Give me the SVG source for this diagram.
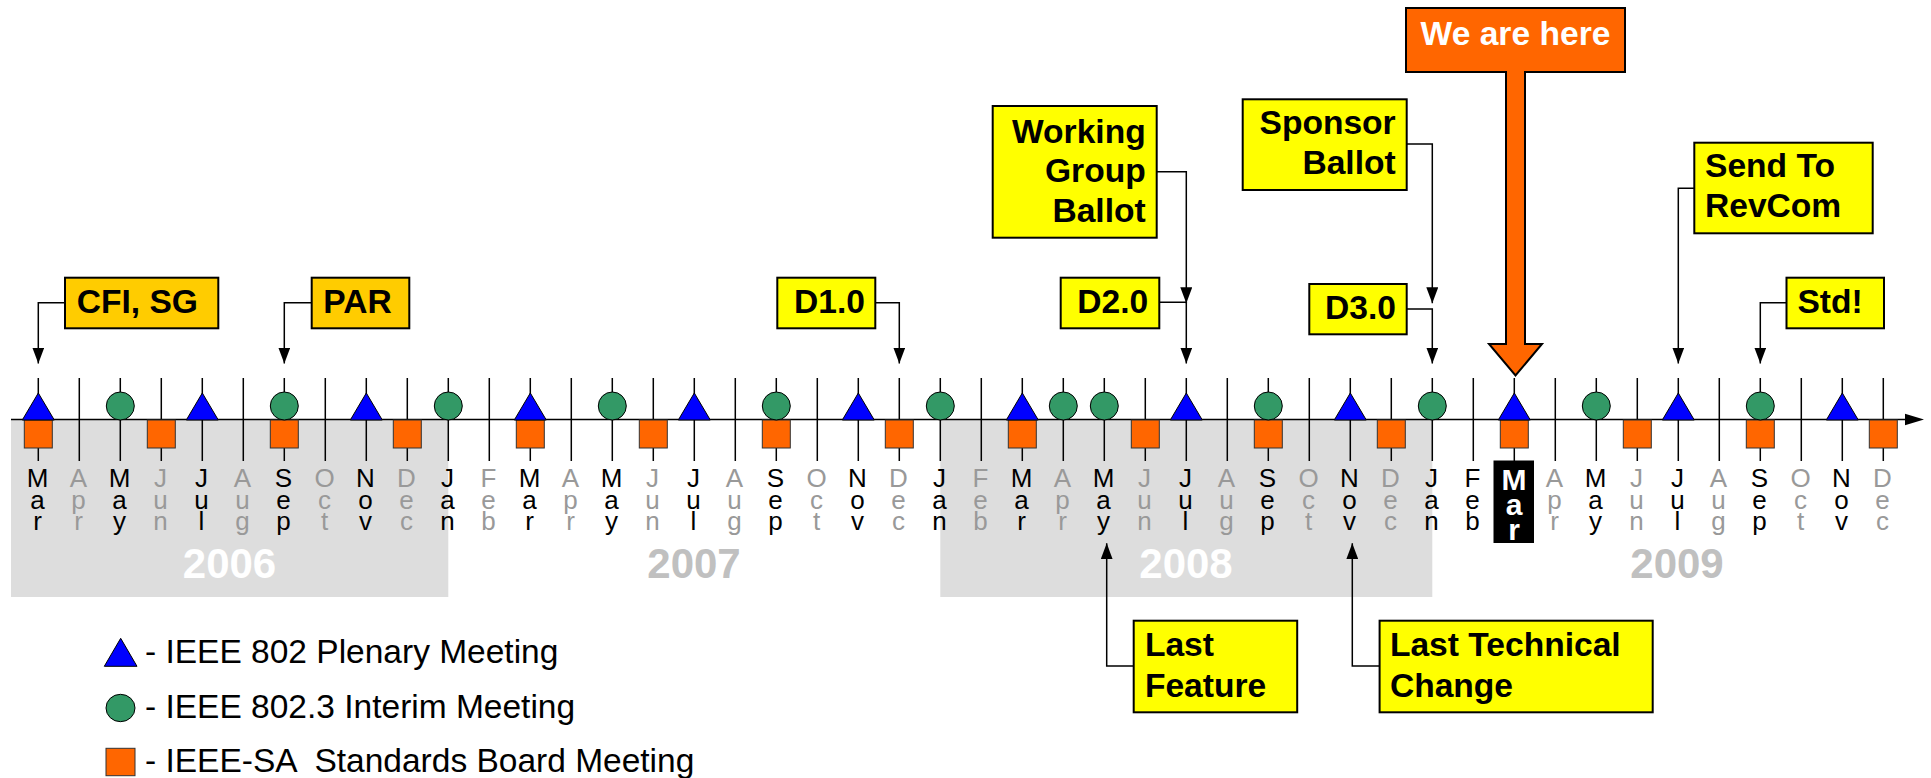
<svg xmlns="http://www.w3.org/2000/svg" xmlns:xlink="http://www.w3.org/1999/xlink" width="1931" height="778" viewBox="0 0 1931 778">
<style>
.m{font-family:"Liberation Sans",Arial,sans-serif;font-size:26px;text-anchor:middle;fill:#000}
.g{fill:#999}
.yr{font-family:"Liberation Sans",Arial,sans-serif;font-size:42px;font-weight:bold;text-anchor:middle}
.cb{stroke:#000;stroke-width:2}
.ct{font-family:"Liberation Sans",Arial,sans-serif;font-size:33.6px;font-weight:bold;fill:#000}
.e{text-anchor:end}
.lg{font-family:"Liberation Sans",Arial,sans-serif;font-size:33.5px;fill:#000}
.conn{fill:none;stroke:#000;stroke-width:1.5}
.tri{fill:#0000FF;stroke:#000;stroke-width:1}
.cir{fill:#339966;stroke:#000;stroke-width:1}
.sq{fill:#FF6600;stroke:#333;stroke-width:1}
</style>
<defs>
<marker id="ah" viewBox="0 0 16 12" refX="16" refY="6" markerWidth="16" markerHeight="12" markerUnits="userSpaceOnUse" orient="auto">
<path d="M0,0 L16,6 L0,12 z" fill="#000"/>
</marker>
<polygon id="T" class="tri" points="-16,0 16,0 0,-27"/>
<circle id="C" class="cir" cx="0" cy="-14" r="14"/>
<rect id="S" class="sq" x="-14" y="0" width="28" height="28"/>
</defs>
<rect width="1931" height="778" fill="#fff"/>
<!-- year bands -->
<g id="bands">
<rect x="11" y="420" width="437.3" height="177" fill="#DDDDDD"/>
<rect x="940.3" y="420" width="492" height="177" fill="#DDDDDD"/>
</g>
<!-- ticks -->
<path id="ticks" fill="none" stroke="#000" stroke-width="1.5" d="M38.3,378V461M79.3,378V461M120.3,378V461M161.3,378V461M202.3,378V461M243.3,378V461M284.3,378V461M325.3,378V461M366.3,378V461M407.3,378V461M448.3,378V461M489.3,378V461M530.3,378V461M571.3,378V461M612.3,378V461M653.3,378V461M694.3,378V461M735.3,378V461M776.3,378V461M817.3,378V461M858.3,378V461M899.3,378V461M940.3,378V461M981.3,378V461M1022.3,378V461M1063.3,378V461M1104.3,378V461M1145.3,378V461M1186.3,378V461M1227.3,378V461M1268.3,378V461M1309.3,378V461M1350.3,378V461M1391.3,378V461M1432.3,378V461M1473.3,378V461M1514.3,378V461M1555.3,378V461M1596.3,378V461M1637.3,378V461M1678.3,378V461M1719.3,378V461M1760.3,378V461M1801.3,378V461M1842.3,378V461M1883.3,378V461"/>
<!-- axis -->
<g id="axis">
<line x1="11" y1="419.5" x2="1906" y2="419.5" stroke="#000" stroke-width="1.5"/>
<polygon points="1905,413.8 1924,419.5 1905,425.2" fill="#000"/>
</g>
<!-- standards board squares -->
<g id="squares">
<use xlink:href="#S" transform="translate(38.3,420)"/>
<use xlink:href="#S" transform="translate(161.3,420)"/>
<use xlink:href="#S" transform="translate(284.3,420)"/>
<use xlink:href="#S" transform="translate(407.3,420)"/>
<use xlink:href="#S" transform="translate(530.3,420)"/>
<use xlink:href="#S" transform="translate(653.3,420)"/>
<use xlink:href="#S" transform="translate(776.3,420)"/>
<use xlink:href="#S" transform="translate(899.3,420)"/>
<use xlink:href="#S" transform="translate(1022.3,420)"/>
<use xlink:href="#S" transform="translate(1145.3,420)"/>
<use xlink:href="#S" transform="translate(1268.3,420)"/>
<use xlink:href="#S" transform="translate(1391.3,420)"/>
<use xlink:href="#S" transform="translate(1514.3,420)"/>
<use xlink:href="#S" transform="translate(1637.3,420)"/>
<use xlink:href="#S" transform="translate(1760.3,420)"/>
<use xlink:href="#S" transform="translate(1883.3,420)"/>
</g>
<!-- interim circles -->
<g id="circles">
<use xlink:href="#C" transform="translate(120.3,420)"/>
<use xlink:href="#C" transform="translate(284.3,420)"/>
<use xlink:href="#C" transform="translate(448.3,420)"/>
<use xlink:href="#C" transform="translate(612.3,420)"/>
<use xlink:href="#C" transform="translate(776.3,420)"/>
<use xlink:href="#C" transform="translate(940.3,420)"/>
<use xlink:href="#C" transform="translate(1063.3,420)"/>
<use xlink:href="#C" transform="translate(1104.3,420)"/>
<use xlink:href="#C" transform="translate(1268.3,420)"/>
<use xlink:href="#C" transform="translate(1432.3,420)"/>
<use xlink:href="#C" transform="translate(1596.3,420)"/>
<use xlink:href="#C" transform="translate(1760.3,420)"/>
</g>
<!-- plenary triangles -->
<g id="triangles">
<use xlink:href="#T" transform="translate(38.3,420)"/>
<use xlink:href="#T" transform="translate(202.3,420)"/>
<use xlink:href="#T" transform="translate(366.3,420)"/>
<use xlink:href="#T" transform="translate(530.3,420)"/>
<use xlink:href="#T" transform="translate(694.3,420)"/>
<use xlink:href="#T" transform="translate(858.3,420)"/>
<use xlink:href="#T" transform="translate(1022.3,420)"/>
<use xlink:href="#T" transform="translate(1186.3,420)"/>
<use xlink:href="#T" transform="translate(1350.3,420)"/>
<use xlink:href="#T" transform="translate(1514.3,420)"/>
<use xlink:href="#T" transform="translate(1678.3,420)"/>
<use xlink:href="#T" transform="translate(1842.3,420)"/>
</g>
<!-- month labels -->
<g id="months">
<text class="m" y="486.5"><tspan x="37.5">M</tspan><tspan x="37.5" dy="22">a</tspan><tspan x="37.5" dy="21.5">r</tspan></text>
<text class="m g" y="486.5"><tspan x="78.5">A</tspan><tspan x="78.5" dy="22">p</tspan><tspan x="78.5" dy="21.5">r</tspan></text>
<text class="m" y="486.5"><tspan x="119.5">M</tspan><tspan x="119.5" dy="22">a</tspan><tspan x="119.5" dy="21.5">y</tspan></text>
<text class="m g" y="486.5"><tspan x="160.5">J</tspan><tspan x="160.5" dy="22">u</tspan><tspan x="160.5" dy="21.5">n</tspan></text>
<text class="m" y="486.5"><tspan x="201.5">J</tspan><tspan x="201.5" dy="22">u</tspan><tspan x="201.5" dy="21.5">l</tspan></text>
<text class="m g" y="486.5"><tspan x="242.5">A</tspan><tspan x="242.5" dy="22">u</tspan><tspan x="242.5" dy="21.5">g</tspan></text>
<text class="m" y="486.5"><tspan x="283.5">S</tspan><tspan x="283.5" dy="22">e</tspan><tspan x="283.5" dy="21.5">p</tspan></text>
<text class="m g" y="486.5"><tspan x="324.5">O</tspan><tspan x="324.5" dy="22">c</tspan><tspan x="324.5" dy="21.5">t</tspan></text>
<text class="m" y="486.5"><tspan x="365.5">N</tspan><tspan x="365.5" dy="22">o</tspan><tspan x="365.5" dy="21.5">v</tspan></text>
<text class="m g" y="486.5"><tspan x="406.5">D</tspan><tspan x="406.5" dy="22">e</tspan><tspan x="406.5" dy="21.5">c</tspan></text>
<text class="m" y="486.5"><tspan x="447.5">J</tspan><tspan x="447.5" dy="22">a</tspan><tspan x="447.5" dy="21.5">n</tspan></text>
<text class="m g" y="486.5"><tspan x="488.5">F</tspan><tspan x="488.5" dy="22">e</tspan><tspan x="488.5" dy="21.5">b</tspan></text>
<text class="m" y="486.5"><tspan x="529.5">M</tspan><tspan x="529.5" dy="22">a</tspan><tspan x="529.5" dy="21.5">r</tspan></text>
<text class="m g" y="486.5"><tspan x="570.5">A</tspan><tspan x="570.5" dy="22">p</tspan><tspan x="570.5" dy="21.5">r</tspan></text>
<text class="m" y="486.5"><tspan x="611.5">M</tspan><tspan x="611.5" dy="22">a</tspan><tspan x="611.5" dy="21.5">y</tspan></text>
<text class="m g" y="486.5"><tspan x="652.5">J</tspan><tspan x="652.5" dy="22">u</tspan><tspan x="652.5" dy="21.5">n</tspan></text>
<text class="m" y="486.5"><tspan x="693.5">J</tspan><tspan x="693.5" dy="22">u</tspan><tspan x="693.5" dy="21.5">l</tspan></text>
<text class="m g" y="486.5"><tspan x="734.5">A</tspan><tspan x="734.5" dy="22">u</tspan><tspan x="734.5" dy="21.5">g</tspan></text>
<text class="m" y="486.5"><tspan x="775.5">S</tspan><tspan x="775.5" dy="22">e</tspan><tspan x="775.5" dy="21.5">p</tspan></text>
<text class="m g" y="486.5"><tspan x="816.5">O</tspan><tspan x="816.5" dy="22">c</tspan><tspan x="816.5" dy="21.5">t</tspan></text>
<text class="m" y="486.5"><tspan x="857.5">N</tspan><tspan x="857.5" dy="22">o</tspan><tspan x="857.5" dy="21.5">v</tspan></text>
<text class="m g" y="486.5"><tspan x="898.5">D</tspan><tspan x="898.5" dy="22">e</tspan><tspan x="898.5" dy="21.5">c</tspan></text>
<text class="m" y="486.5"><tspan x="939.5">J</tspan><tspan x="939.5" dy="22">a</tspan><tspan x="939.5" dy="21.5">n</tspan></text>
<text class="m g" y="486.5"><tspan x="980.5">F</tspan><tspan x="980.5" dy="22">e</tspan><tspan x="980.5" dy="21.5">b</tspan></text>
<text class="m" y="486.5"><tspan x="1021.5">M</tspan><tspan x="1021.5" dy="22">a</tspan><tspan x="1021.5" dy="21.5">r</tspan></text>
<text class="m g" y="486.5"><tspan x="1062.5">A</tspan><tspan x="1062.5" dy="22">p</tspan><tspan x="1062.5" dy="21.5">r</tspan></text>
<text class="m" y="486.5"><tspan x="1103.5">M</tspan><tspan x="1103.5" dy="22">a</tspan><tspan x="1103.5" dy="21.5">y</tspan></text>
<text class="m g" y="486.5"><tspan x="1144.5">J</tspan><tspan x="1144.5" dy="22">u</tspan><tspan x="1144.5" dy="21.5">n</tspan></text>
<text class="m" y="486.5"><tspan x="1185.5">J</tspan><tspan x="1185.5" dy="22">u</tspan><tspan x="1185.5" dy="21.5">l</tspan></text>
<text class="m g" y="486.5"><tspan x="1226.5">A</tspan><tspan x="1226.5" dy="22">u</tspan><tspan x="1226.5" dy="21.5">g</tspan></text>
<text class="m" y="486.5"><tspan x="1267.5">S</tspan><tspan x="1267.5" dy="22">e</tspan><tspan x="1267.5" dy="21.5">p</tspan></text>
<text class="m g" y="486.5"><tspan x="1308.5">O</tspan><tspan x="1308.5" dy="22">c</tspan><tspan x="1308.5" dy="21.5">t</tspan></text>
<text class="m" y="486.5"><tspan x="1349.5">N</tspan><tspan x="1349.5" dy="22">o</tspan><tspan x="1349.5" dy="21.5">v</tspan></text>
<text class="m g" y="486.5"><tspan x="1390.5">D</tspan><tspan x="1390.5" dy="22">e</tspan><tspan x="1390.5" dy="21.5">c</tspan></text>
<text class="m" y="486.5"><tspan x="1431.5">J</tspan><tspan x="1431.5" dy="22">a</tspan><tspan x="1431.5" dy="21.5">n</tspan></text>
<text class="m" y="486.5"><tspan x="1472.5">F</tspan><tspan x="1472.5" dy="22">e</tspan><tspan x="1472.5" dy="21.5">b</tspan></text>
<g id="current-month">
<rect x="1493.5" y="460.5" width="40.5" height="82.5" fill="#000"/>
<text class="m" style="fill:#fff;font-weight:bold;font-size:30px" y="489.5"><tspan x="1514">M</tspan><tspan x="1514" dy="25">a</tspan><tspan x="1514" dy="25">r</tspan></text>
</g>
<text class="m g" y="486.5"><tspan x="1554.5">A</tspan><tspan x="1554.5" dy="22">p</tspan><tspan x="1554.5" dy="21.5">r</tspan></text>
<text class="m" y="486.5"><tspan x="1595.5">M</tspan><tspan x="1595.5" dy="22">a</tspan><tspan x="1595.5" dy="21.5">y</tspan></text>
<text class="m g" y="486.5"><tspan x="1636.5">J</tspan><tspan x="1636.5" dy="22">u</tspan><tspan x="1636.5" dy="21.5">n</tspan></text>
<text class="m" y="486.5"><tspan x="1677.5">J</tspan><tspan x="1677.5" dy="22">u</tspan><tspan x="1677.5" dy="21.5">l</tspan></text>
<text class="m g" y="486.5"><tspan x="1718.5">A</tspan><tspan x="1718.5" dy="22">u</tspan><tspan x="1718.5" dy="21.5">g</tspan></text>
<text class="m" y="486.5"><tspan x="1759.5">S</tspan><tspan x="1759.5" dy="22">e</tspan><tspan x="1759.5" dy="21.5">p</tspan></text>
<text class="m g" y="486.5"><tspan x="1800.5">O</tspan><tspan x="1800.5" dy="22">c</tspan><tspan x="1800.5" dy="21.5">t</tspan></text>
<text class="m" y="486.5"><tspan x="1841.5">N</tspan><tspan x="1841.5" dy="22">o</tspan><tspan x="1841.5" dy="21.5">v</tspan></text>
<text class="m g" y="486.5"><tspan x="1882.5">D</tspan><tspan x="1882.5" dy="22">e</tspan><tspan x="1882.5" dy="21.5">c</tspan></text>
</g>
<!-- years -->
<g id="years">
<text class="yr" x="229.5" y="578" fill="#fff">2006</text>
<text class="yr" x="694" y="578" fill="#C0C0C0">2007</text>
<text class="yr" x="1186" y="578" fill="#fff">2008</text>
<text class="yr" x="1677" y="578" fill="#C0C0C0">2009</text>
</g>
<!-- connectors -->
<g id="connectors">
<path class="conn" marker-end="url(#ah)" d="M65,302.7H38.3V363.5"/>
<path class="conn" marker-end="url(#ah)" d="M311.7,302.7H284.3V363.5"/>
<path class="conn" marker-end="url(#ah)" d="M875.3,302.7H899.3V363.5"/>
<path class="conn" marker-end="url(#ah)" d="M1156.7,171.7H1186.3V303.3"/>
<path class="conn" marker-end="url(#ah)" d="M1159.3,302.3H1186.3V363.5"/>
<path class="conn" marker-end="url(#ah)" d="M1406.7,144H1432.3V303.3"/>
<path class="conn" marker-end="url(#ah)" d="M1406.7,309H1432.3V363.5"/>
<path class="conn" marker-end="url(#ah)" d="M1694.3,188.3H1678.3V363.5"/>
<path class="conn" marker-end="url(#ah)" d="M1786.5,302.7H1760.3V363.5"/>
<path class="conn" marker-end="url(#ah)" d="M1133.7,666H1106.7V543.3"/>
<path class="conn" marker-end="url(#ah)" d="M1379.6,666H1352.3V543.3"/>
</g>
<!-- callouts -->
<g id="cfi-sg">
<rect class="cb" x="65" y="277.7" width="153.3" height="50.6" fill="#FFCC00"/>
<text class="ct" x="76.7" y="313.3">CFI, SG</text>
</g>
<g id="par">
<rect class="cb" x="311.7" y="277.7" width="97.6" height="50.6" fill="#FFCC00"/>
<text class="ct" x="323.3" y="313.3">PAR</text>
</g>
<g id="d1">
<rect class="cb" x="777.3" y="277.7" width="98" height="50.6" fill="#FFFF00"/>
<text class="ct e" x="865" y="313.3">D1.0</text>
</g>
<g id="wg-ballot">
<rect class="cb" x="992.7" y="106" width="164" height="131.7" fill="#FFFF00"/>
<text class="ct e" x="1145.7" y="142.7">Working</text>
<text class="ct e" x="1145.7" y="182.3">Group</text>
<text class="ct e" x="1145.7" y="222.3">Ballot</text>
</g>
<g id="d2">
<rect class="cb" x="1060.7" y="277.7" width="98.6" height="50.6" fill="#FFFF00"/>
<text class="ct e" x="1148.3" y="312.7">D2.0</text>
</g>
<g id="sponsor-ballot">
<rect class="cb" x="1242.7" y="99.3" width="164" height="90.7" fill="#FFFF00"/>
<text class="ct e" x="1395.7" y="134.3">Sponsor</text>
<text class="ct e" x="1395.7" y="174">Ballot</text>
</g>
<g id="d3">
<rect class="cb" x="1309.3" y="284" width="97.4" height="50.3" fill="#FFFF00"/>
<text class="ct e" x="1396" y="319">D3.0</text>
</g>
<g id="we-are-here">
<path d="M1406,8H1625V72H1525V344H1542L1515.5,375.5L1489,344H1506V72H1406Z" fill="#FF6600" stroke="#000" stroke-width="2"/>
<text class="ct" x="1515.5" y="45" style="fill:#fff;text-anchor:middle">We are here</text>
</g>
<g id="send-revcom">
<rect class="cb" x="1694.3" y="142.7" width="178.4" height="90.6" fill="#FFFF00"/>
<text class="ct" x="1705" y="176.7">Send To</text>
<text class="ct" x="1705" y="217.3">RevCom</text>
</g>
<g id="std">
<rect class="cb" x="1786.5" y="277.7" width="97.5" height="50.6" fill="#FFFF00"/>
<text class="ct" x="1797.4" y="313.3">Std!</text>
</g>
<g id="last-feature">
<rect class="cb" x="1133.7" y="620.7" width="163.5" height="91.6" fill="#FFFF00"/>
<text class="ct" x="1144.9" y="656">Last</text>
<text class="ct" x="1144.9" y="696.7">Feature</text>
</g>
<g id="last-tech-change">
<rect class="cb" x="1379.6" y="620.7" width="273.1" height="91.6" fill="#FFFF00"/>
<text class="ct" x="1389.9" y="656">Last Technical</text>
<text class="ct" x="1389.9" y="696.7">Change</text>
</g>
<!-- legend -->
<g id="legend-plenary">
<polygon class="tri" points="104.3,666.3 137,666.3 120.7,638.3"/>
<text class="lg" x="145" y="662.7">- IEEE 802 Plenary Meeting</text>
</g>
<g id="legend-interim">
<ellipse class="cir" cx="120.5" cy="708" rx="14.5" ry="13.7"/>
<text class="lg" x="145" y="717.7">- IEEE 802.3 Interim Meeting</text>
</g>
<g id="legend-board">
<rect class="sq" x="106" y="748.3" width="29" height="27.4"/>
<text class="lg" x="145" y="771.7" xml:space="preserve">- IEEE-SA  Standards Board Meeting</text>
</g>
</svg>
